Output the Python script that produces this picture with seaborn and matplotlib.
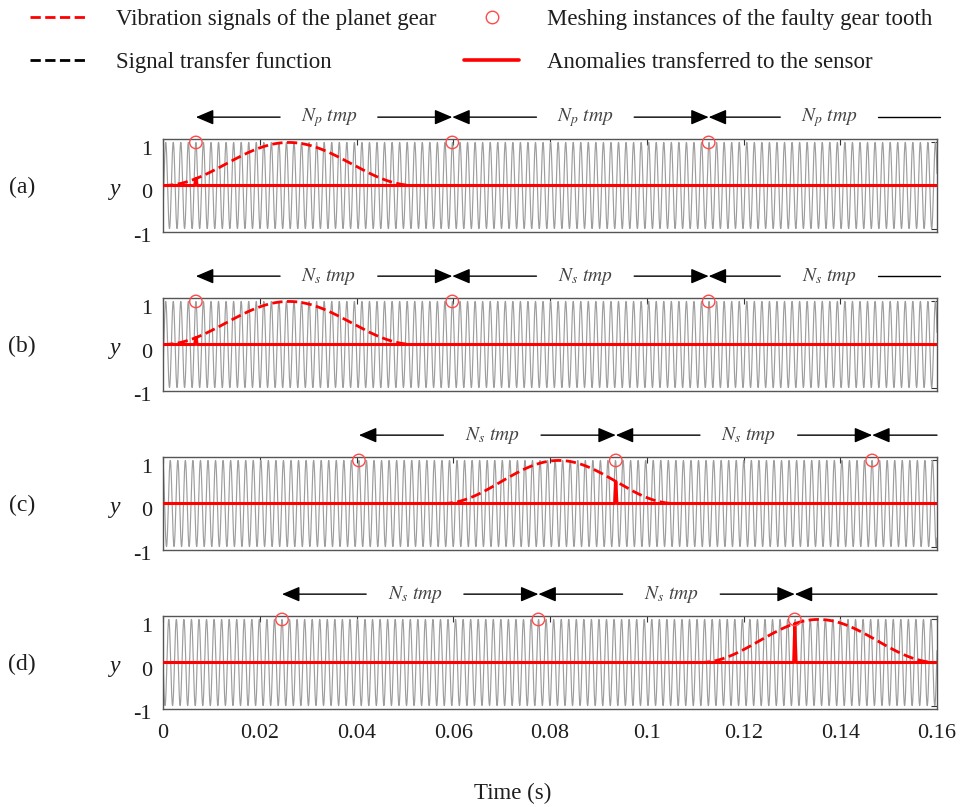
import numpy as np
import pandas as pd
import matplotlib
matplotlib.use("Agg")
import matplotlib.pyplot as plt
import matplotlib.transforms as mtransforms
from matplotlib.lines import Line2D
import seaborn as sns

sns.set_theme(style="white")
plt.rcParams['font.family'] = ['Liberation Serif', 'DejaVu Serif']
plt.rcParams['mathtext.fontset'] = 'stix'

# ---- data -------------------------------------------------------------
panel_labels = ["(a)", "(b)", "(c)", "(d)"]
period_labels = [r"$N_p\ tmp$", r"$N_s\ tmp$", r"$N_s\ tmp$", r"$N_s\ tmp$"]

# meshing instants of the faulty tooth (s)
mesh_a = [0.0068, 0.0598, 0.1128]
mesh_b = [0.0068, 0.0598, 0.1128]
mesh_c = [0.0405, 0.0936, 0.1466]
mesh_d = [0.0246, 0.0776, 0.1306]
mesh_times = [mesh_a, mesh_b, mesh_c, mesh_d]

# passing window of the planet gear (start, end) in s
windows = [(0.0, 0.052), (0.0, 0.052), (0.0578, 0.1058), (0.111, 0.160)]

# whether the last span carries its label, and where it stops
last_span_text = [True, True, False, False]
last_span_end = [0.1606, 0.1606, 0.160, 0.160]

mesh_period = 0.00156      # tooth-meshing period tmp (s)
t_end = 0.16
xticks = [0, 0.02, 0.04, 0.06, 0.08, 0.1, 0.12, 0.14, 0.16]
xticklabels = ["0", "0.02", "0.04", "0.06", "0.08", "0.1", "0.12", "0.14", "0.16"]
yticks = [-1, 0, 1]

RED = "#ff0000"
GRAY = "#9d9d9d"
TXT = "#1e1e1e"

t = np.linspace(0, t_end, 8001)


def window_value(tt, w):
    a, b = w
    u = np.clip((tt - a) / (b - a), 0, 1)
    return np.sin(np.pi * u) ** 2


fig = plt.figure(figsize=(9.66, 8.07), dpi=100)
W, H = 966, 807
left_px, right_px = 163, 937
tops_px = [139, 298, 457, 616]
box_h = 93

axes = []
for i, top in enumerate(tops_px):
    ax = fig.add_axes([left_px / W, 1 - (top + box_h) / H,
                       (right_px - left_px) / W, box_h / H])
    axes.append(ax)

label_shift = mtransforms.ScaledTranslation(0, -6 / 100, fig.dpi_scale_trans)

for i, ax in enumerate(axes):
    mt = mesh_times[i]
    w = windows[i]
    vib = np.cos(2 * np.pi * (t - mt[0]) / mesh_period)
    win = window_value(t, w)
    anomaly = np.zeros_like(t)
    for tk in mt:
        h = float(window_value(np.array([tk]), w)[0])
        anomaly = np.maximum(anomaly, h * np.clip(1 - np.abs(t - tk) / 0.00022, 0, 1))
    df = pd.DataFrame({"t": t, "vib": vib, "win": win, "anomaly": anomaly})
    pts = pd.DataFrame({"t": mt, "y": [1.0] * len(mt)})

    sns.lineplot(data=df, x="t", y="vib", ax=ax, color=GRAY, lw=0.85,
                 estimator=None, sort=False, zorder=1)
    sns.lineplot(data=df[df["win"] > 0.0], x="t", y="win", ax=ax, color=RED,
                 lw=2, linestyle="--", estimator=None, sort=False, zorder=2)
    sns.lineplot(data=df, x="t", y="anomaly", ax=ax, color=RED, lw=2.2,
                 estimator=None, sort=False, zorder=3)
    sns.scatterplot(data=pts, x="t", y="y", ax=ax, s=80, marker="o",
                    facecolors="none", edgecolor="#ff4a4a", linewidth=1,
                    zorder=4, clip_on=False)

    ax.set_xlim(0, t_end)
    ax.set_ylim(-1.08, 1.08)
    ax.set_xlabel("")
    ax.set_ylabel("")
    ax.set_yticks(yticks)
    ax.set_yticklabels(["-1", "0", "1"])
    ax.set_xticks(xticks)
    if i == 3:
        ax.set_xticklabels(xticklabels)
    else:
        ax.set_xticklabels([])
    ax.tick_params(direction="in", top=True, right=True, length=4, width=0.8,
                   color="#333333", labelsize=16, labelcolor=TXT, pad=8)
    ax.tick_params(axis="x", pad=11)
    for lab in ax.get_yticklabels():
        lab.set_transform(lab.get_transform() + label_shift)
    for sp in ax.spines.values():
        sp.set_color("#555555")
        sp.set_linewidth(1.0)

    # panel label and axis name
    trans = mtransforms.blended_transform_factory(ax.transAxes, ax.transData)
    ax.text(-0.182, -0.05, panel_labels[i], transform=trans, fontsize=17,
            ha="center", va="center", color=TXT)
    ax.text(-0.062, -0.1, "y", transform=trans, fontsize=17, style="italic",
            ha="center", va="center", color=TXT)

    # meshing-period spans above the axes
    ttrans = mtransforms.blended_transform_factory(ax.transData, ax.transAxes)
    y_arr = 1.235
    arrow_kw = dict(arrowstyle="-|>,head_length=0.4,head_width=0.17",
                    color="black", lw=1, mutation_scale=27,
                    shrinkA=0, shrinkB=0)
    spans = [(mt[0], mt[1], True, True), (mt[1], mt[2], True, True),
             (mt[2], last_span_end[i], last_span_text[i], False)]
    gap = 0.0101
    for x0, x1, has_text, right_head in spans:
        if has_text:
            mid = 0.5 * (x0 + x1) + 0.001
            ax.annotate("", xy=(x0, y_arr), xytext=(mid - gap, y_arr),
                        xycoords=ttrans, textcoords=ttrans,
                        arrowprops=arrow_kw, annotation_clip=False)
            if right_head:
                ax.annotate("", xy=(x1, y_arr), xytext=(mid + gap, y_arr),
                            xycoords=ttrans, textcoords=ttrans,
                            arrowprops=arrow_kw, annotation_clip=False)
            else:
                ax.add_line(Line2D([mid + gap, x1], [y_arr, y_arr],
                                   transform=ttrans, color="black", lw=1,
                                   clip_on=False))
            ax.text(mid, y_arr, period_labels[i], transform=ttrans,
                    fontsize=14, ha="center", va="center", color="#444444")
        else:
            ax.annotate("", xy=(x0, y_arr), xytext=(x1, y_arr),
                        xycoords=ttrans, textcoords=ttrans,
                        arrowprops=arrow_kw, annotation_clip=False)

fig.text(513 / W, 1 - 793 / H, "Time (s)", fontsize=16.5, ha="center",
         va="center", color=TXT)

# legend, two columns
h1 = [Line2D([], [], color=RED, lw=2, linestyle="--"),
      Line2D([], [], color="black", lw=2, linestyle="--")]
l1 = ["Vibration signals of the planet gear", "Signal transfer function"]
h2 = [Line2D([], [], color="#ff4a4a", marker="o", markersize=9,
             markerfacecolor="none", linestyle="none", markeredgewidth=1),
      Line2D([], [], color=RED, lw=2.6)]
l2 = ["Meshing instances of the faulty gear tooth",
      "Anomalies transferred to the sensor"]
leg_kw = dict(loc="upper left", frameon=False, fontsize=16.5, borderpad=0,
              borderaxespad=0, labelspacing=0.97, labelcolor=TXT)
fig.legend(h1, l1, bbox_to_anchor=(30 / W, 1 - 9 / H), handlelength=2.4,
           handletextpad=1.35, **leg_kw)
fig.legend(h2, l2, bbox_to_anchor=(464 / W, 1 - 9 / H), handlelength=2.4,
           handletextpad=1.22, **leg_kw)

fig.savefig("out.png", dpi=100)
